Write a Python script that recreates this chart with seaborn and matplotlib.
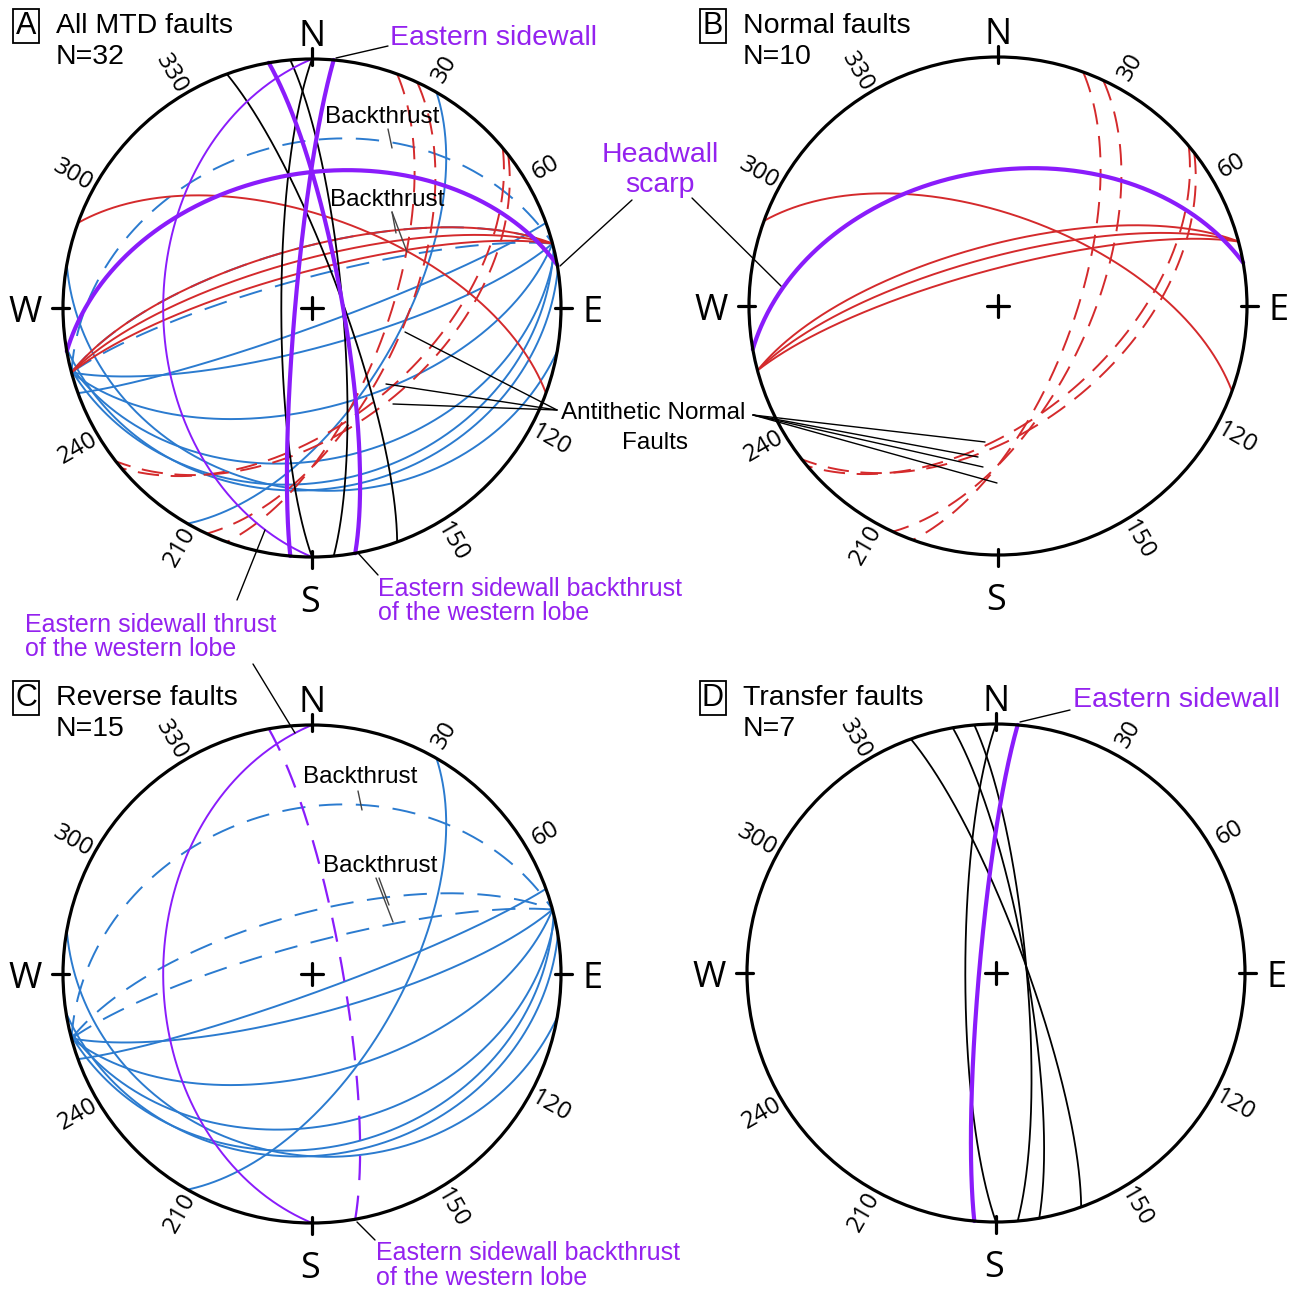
import numpy as np
import matplotlib
matplotlib.use("Agg")
import matplotlib.pyplot as plt
import seaborn as sns

# ---------------- data (right-hand-rule strike / dip, degrees) ----------------
normal_strike = [260, 290, 255, 255, 255, 20, 25, 50, 52]
normal_dip    = [45, 60, 70, 74, 78, 65, 60, 53, 50]
normal_kind   = ["headwall", "normal", "normal", "normal", "normal",
                 "antithetic", "antithetic", "antithetic", "antithetic"]

reverse_strike = [180, 350, 255, 255, 255, 30, 70, 75, 75, 77, 76, 81, 100]
reverse_dip    = [40, 80, 34, 70, 80, 61, 84, 77, 57, 39, 31, 28, 28]
reverse_kind   = ["sw_thrust", "sw_backthrust", "backthrust", "backthrust", "backthrust",
                  "reverse", "reverse", "reverse", "reverse", "reverse", "reverse",
                  "reverse", "reverse"]

transfer_strike = [185, 340, 350, 355, 180]
transfer_dip    = [84.5, 80, 80, 80, 80]
transfer_kind   = ["sidewall", "transfer", "transfer", "transfer", "transfer"]

panel_letters = ["A", "B", "C", "D"]
panel_titles = ["All MTD faults", "Normal faults", "Reverse faults", "Transfer faults"]
panel_counts = ["N=32", "N=10", "N=15", "N=7"]
degree_ticks = [30, 60, 120, 150, 210, 240, 300, 330]

# ---------------- styles ----------------
RED = "#d42a2c"
BLUE = "#2b7bcf"
PURPLE = "#8a1cfb"
PTXT = "#9422ef"
style = {
    "headwall":      dict(color=PURPLE, lw=3.0, ls="-"),
    "normal":        dict(color=RED, lw=1.4, ls="-"),
    "antithetic":    dict(color=RED, lw=1.4, ls=(0, (11, 6))),
    "sw_thrust":     dict(color=PURPLE, lw=1.4, ls="-"),
    "sw_backthrust": dict(color=PURPLE, lw=1.6, ls=(0, (11, 7))),
    "backthrust":    dict(color=BLUE, lw=1.4, ls=(0, (12, 7))),
    "reverse":       dict(color=BLUE, lw=1.4, ls="-"),
    "sidewall":      dict(color=PURPLE, lw=3.0, ls="-"),
    "transfer":      dict(color="black", lw=1.3, ls="-"),
}
# in panel A the sidewall backthrust is drawn thick and solid
styleA_override = {"sw_backthrust": dict(color=PURPLE, lw=3.0, ls="-")}

R = 249.0
centers = {"A": (312, 308), "B": (998, 306), "C": (312, 974), "D": (996, 973)}


def great_circle(strike, dip, n=400):
    """Lower-hemisphere equal-area projection of a plane (unit circle coords)."""
    s = np.radians(strike)
    dd = s + np.pi / 2
    d = np.radians(dip)
    t = np.linspace(0, np.pi, n)
    S = np.array([np.cos(s), np.sin(s), 0.0])
    D = np.array([np.cos(d) * np.cos(dd), np.cos(d) * np.sin(dd), np.sin(d)])
    v = np.outer(np.cos(t), S) + np.outer(np.sin(t), D)
    plunge = np.arcsin(np.clip(v[:, 2], -1, 1))
    az = np.arctan2(v[:, 1], v[:, 0])
    r = np.sqrt(2) * np.sin((np.pi / 2 - plunge) / 2)
    return r * np.sin(az), r * np.cos(az)


sns.set_theme(style="white")
plt.rcParams["font.family"] = ["Liberation Sans", "DejaVu Sans"]
plt.rcParams["text.color"] = "black"

fig = plt.figure(figsize=(12.98, 12.90), dpi=100)
ax = fig.add_axes([0, 0, 1, 1])


def draw_plane(panel, strike, dip, kind, override=None):
    cx, cy = centers[panel]
    st = dict(style[kind])
    if override and kind in override:
        st = dict(override[kind])
    x, y = great_circle(strike, dip)
    sns.lineplot(x=cx + R * x, y=cy - R * y, sort=False, estimator=None, ax=ax,
                 color=st["color"], linewidth=st["lw"], linestyle=st["ls"],
                 zorder=3 if st["color"] == PURPLE else 2)


def draw_net(panel):
    cx, cy = centers[panel]
    ax.add_patch(plt.Circle((cx, cy), R, fill=False, lw=2.3, color="black", zorder=4))
    k = 11
    ax.plot([cx - k, cx + k], [cy, cy], color="black", lw=2.3, zorder=4)
    ax.plot([cx, cx], [cy - k, cy + k], color="black", lw=2.3, zorder=4)
    for (dx, dy) in [(0, -1), (0, 1), (-1, 0), (1, 0)]:
        ax.plot([cx + dx * (R - 6), cx + dx * (R + 11)], [cy + dy * (R - 6), cy + dy * (R + 11)],
                color="black", lw=2.3, zorder=4)
    fnt = ["Open Sans", "DejaVu Sans"]
    ax.text(cx, cy - R - 13, "N", ha="center", va="baseline", fontsize=26, family=fnt)
    ax.text(cx - 2, cy + R + 55, "S", ha="center", va="baseline", fontsize=26, family=fnt)
    ax.text(cx - R - 21, cy + 14, "W", ha="right", va="baseline", fontsize=26, family=fnt)
    ax.text(cx + R + 21, cy + 14, "E", ha="left", va="baseline", fontsize=26, family=fnt)
    for a in degree_ticks:
        ar = np.radians(a - 1.0)
        rr = R + 24
        rot = 90 - a if a < 180 else 270 - a
        ax.text(cx + rr * np.sin(ar), cy - rr * np.cos(ar), str(a), rotation=rot,
                rotation_mode="anchor", ha="center", va="center", fontsize=17.5, family=fnt)


datasets = {
    "B": (normal_strike, normal_dip, normal_kind),
    "C": (reverse_strike, reverse_dip, reverse_kind),
    "D": (transfer_strike, transfer_dip, transfer_kind),
}
for p in ["C", "B", "D"]:
    ss, dd, kk = datasets[p]
    for s, d, k in zip(ss, dd, kk):
        draw_plane(p, s, d, k)
        draw_plane("A", s, d, k, override=styleA_override)

for p in panel_letters:
    draw_net(p)

# panel titles
title_pos = {"A": (10, 26), "B": (697, 26), "C": (10, 698), "D": (697, 698)}
for p, t, n in zip(panel_letters, panel_titles, panel_counts):
    x0, y0 = title_pos[p]
    ax.text(x0 + 16, y0, p, ha="center", va="center", fontsize=22,
            bbox=dict(boxstyle="square,pad=0.08", fc="white", ec="black", lw=1.3))
    ax.text(x0 + 46, y0, t, ha="left", va="center", fontsize=20.5)
    ax.text(x0 + 46, y0 + 31, n, ha="left", va="center", fontsize=20.5)

# annotations
def leader(x0, y0, x1, y1, lw=1.0, color="black"):
    ax.plot([x0, x1], [y0, y1], color=color, lw=lw, zorder=5)

ax.text(390, 38, "Eastern sidewall", color=PTXT, fontsize=20.5, ha="left", va="center")
leader(336, 58, 388, 46)
ax.text(325, 117, "Backthrust", fontsize=17.5, ha="left", va="center")
leader(388, 129, 392, 148, color="#444444")
ax.text(330, 200, "Backthrust", fontsize=17.5, ha="left", va="center")
leader(392, 212, 396, 233, color="#444444")
leader(392, 212, 407, 252, color="#444444")

ax.text(660, 155, "Headwall", color=PTXT, fontsize=20.5, ha="center", va="center")
ax.text(660, 185, "scarp", color=PTXT, fontsize=20.5, ha="center", va="center")
leader(632, 200, 560, 266)
leader(692, 198, 781, 286)

ax.text(561, 413, "Antithetic Normal", fontsize=17.5, ha="left", va="center")
ax.text(655, 443, "Faults", fontsize=17.5, ha="center", va="center")
for (xe, ye) in [(405, 332), (386, 384), (393, 404)]:
    leader(557, 410, xe, ye)
for (xe, ye) in [(985, 442), (978, 457), (983, 467), (997, 483)]:
    leader(753, 415, xe, ye)

ax.text(378, 589, "Eastern sidewall backthrust", color=PTXT, fontsize=18, ha="left", va="center")
ax.text(378, 613, "of the western lobe", color=PTXT, fontsize=18, ha="left", va="center")
leader(378, 575, 358, 553)

ax.text(25, 625, "Eastern sidewall thrust", color=PTXT, fontsize=18, ha="left", va="center")
ax.text(25, 649, "of the western lobe", color=PTXT, fontsize=18, ha="left", va="center")
leader(237, 600, 265, 530)
leader(253, 664, 295, 733)

ax.text(303, 777, "Backthrust", fontsize=17.5, ha="left", va="center")
leader(358, 791, 362, 810, color="#444444")
ax.text(323, 866, "Backthrust", fontsize=17.5, ha="left", va="center")
leader(376, 878, 393, 922, color="#444444")
leader(379, 878, 389, 905, color="#444444")

ax.text(376, 1253, "Eastern sidewall backthrust", color=PTXT, fontsize=18, ha="left", va="center")
ax.text(376, 1278, "of the western lobe", color=PTXT, fontsize=18, ha="left", va="center")
leader(375, 1240, 357, 1222)

ax.text(1073, 700, "Eastern sidewall", color=PTXT, fontsize=20.5, ha="left", va="center")
leader(1070, 710, 1020, 722)

ax.set_xlim(0, 1298)
ax.set_ylim(1290, 0)
ax.axis("off")
fig.savefig("out.png", dpi=100, facecolor="white")
